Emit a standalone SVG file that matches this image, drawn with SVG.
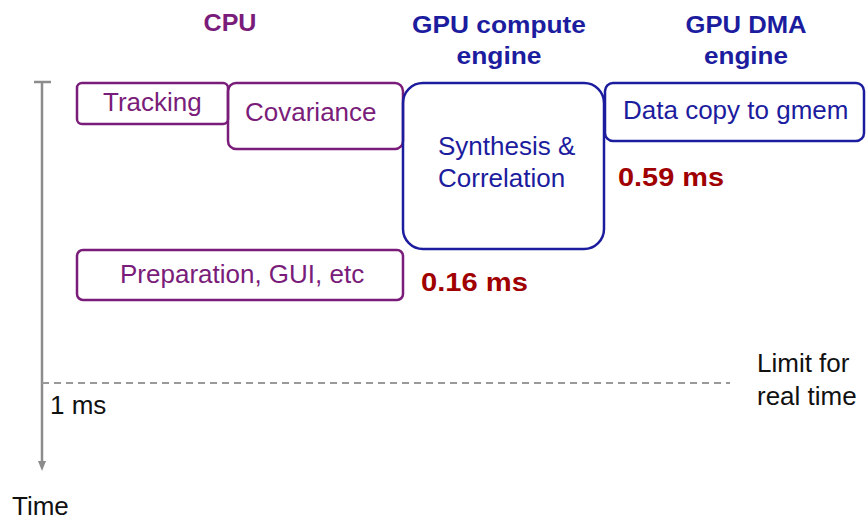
<svg xmlns="http://www.w3.org/2000/svg" width="866" height="520" viewBox="0 0 866 520">
<style>
text{font-family:"Liberation Sans",Arial,sans-serif}
.t{font-size:26px}
.h{font-size:24px;font-weight:bold;text-anchor:middle}
.cpu{fill:none;stroke:#7a1c7a;stroke-width:2.5}
.gpu{fill:none;stroke:#1c1c9e;stroke-width:2.5}
.pt{fill:#7a1c7a}
.bt{fill:#1c1c9e}
.ms{font-size:25px;font-weight:bold;fill:#a00000}
.k{fill:#111}
</style>
<defs>
<marker id="ah" markerWidth="10" markerHeight="8" refX="5" refY="4" orient="auto" markerUnits="userSpaceOnUse" viewBox="0 0 10 8">
<path d="M0,0 L10,4 L0,8 z" fill="#8c8c8c"/>
</marker>
</defs>
<g id="headers">
<text class="h pt" x="230" y="31" textLength="53" lengthAdjust="spacingAndGlyphs">CPU</text>
<text class="h bt" x="499" y="33" textLength="174" lengthAdjust="spacingAndGlyphs">GPU compute</text>
<text class="h bt" x="499" y="64" textLength="85" lengthAdjust="spacingAndGlyphs">engine</text>
<text class="h bt" x="746" y="33" textLength="121" lengthAdjust="spacingAndGlyphs">GPU DMA</text>
<text class="h bt" x="746" y="64" textLength="84" lengthAdjust="spacingAndGlyphs">engine</text>
</g>
<g id="connectors">
<line x1="34" y1="82" x2="51" y2="82" stroke="#8c8c8c" stroke-width="2.5"/>
<line x1="42" y1="82" x2="42" y2="466" stroke="#8c8c8c" stroke-width="2.5" marker-end="url(#ah)"/>
<line x1="42" y1="383" x2="730" y2="383" stroke="#999" stroke-width="1.8" stroke-dasharray="7,5"/>
</g>
<g id="tracking">
<rect class="cpu" x="77" y="83" width="151" height="41" rx="5"/>
<text class="t pt" x="103" y="111">Tracking</text>
</g>
<g id="covariance">
<rect class="cpu" x="228" y="83" width="175" height="66" rx="8"/>
<text class="t pt" x="245" y="121">Covariance</text>
</g>
<g id="synthesis">
<rect class="gpu" x="403" y="83" width="201" height="166" rx="20"/>
<text class="t bt" x="438" y="155">Synthesis &amp;</text>
<text class="t bt" x="438" y="187">Correlation</text>
</g>
<g id="datacopy">
<rect class="gpu" x="605" y="83" width="259" height="58" rx="8"/>
<text class="t bt" x="623" y="119">Data copy to gmem</text>
</g>
<g id="preparation">
<rect class="cpu" x="77" y="250" width="326" height="50" rx="6"/>
<text class="t pt" x="120" y="283">Preparation, GUI, etc</text>
</g>
<g id="labels">
<text class="ms" x="618" y="186" textLength="106" lengthAdjust="spacingAndGlyphs">0.59 ms</text>
<text class="ms" x="421" y="291" textLength="107" lengthAdjust="spacingAndGlyphs">0.16 ms</text>
<text class="t k" x="50" y="414">1 ms</text>
<text class="t k" x="12" y="515">Time</text>
<text class="t k" x="757" y="372">Limit for</text>
<text class="t k" x="757" y="405">real time</text>
</g>
</svg>
